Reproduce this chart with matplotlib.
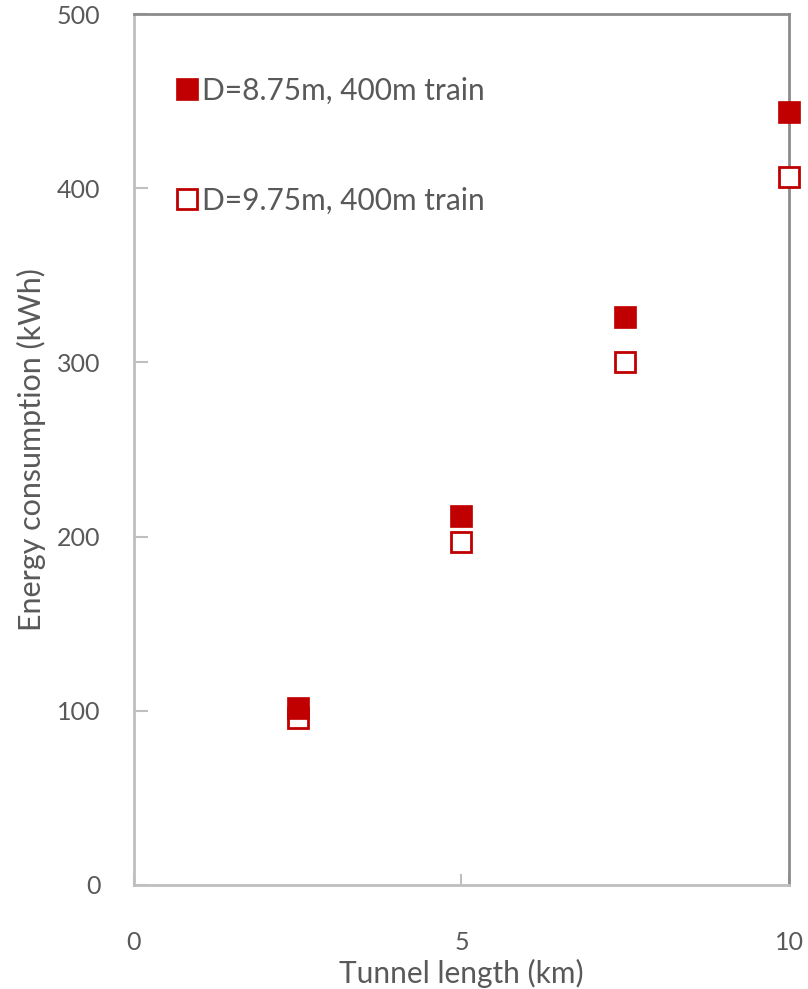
import matplotlib
matplotlib.use("Agg")
import matplotlib.pyplot as plt
from matplotlib.lines import Line2D

# Tunnel length (km) and energy consumption (kWh) for two tunnel diameters
tunnel_length = [2.5, 5, 7.5, 10]
energy_d875 = [101.5, 212, 326, 443.5]
energy_d975 = [96, 197, 300, 406.5]

series_labels = ["D=8.75m, 400m train", "D=9.75m, 400m train"]
x_ticks = [0, 5, 10]
y_ticks = [0, 100, 200, 300, 400, 500]

red = "#c00000"
text_gray = "#595959"
font = "Lato"

fig = plt.figure(figsize=(8.08, 9.89), dpi=100)
ax = fig.add_axes([0.1658, 0.1052, 0.8107, 0.8806])

ax.plot(tunnel_length, energy_d975, linestyle="none", marker="s", markersize=14.5,
        markerfacecolor="white", markeredgecolor=red, markeredgewidth=2,
        clip_on=False, zorder=3)
ax.plot(tunnel_length, energy_d875, linestyle="none", marker="s", markersize=15.5,
        markerfacecolor=red, markeredgecolor=red, markeredgewidth=0.5,
        clip_on=False, zorder=4)

ax.set_xlim(0, 10)
ax.set_ylim(0, 500)
ax.set_xticks(x_ticks)
ax.set_yticks(y_ticks)

ax.tick_params(axis="x", direction="in", length=8, width=1.5, color="#bfbfbf",
               pad=33, labelsize=18, labelcolor=text_gray)
ax.tick_params(axis="y", direction="in", length=10, width=1.5, color="#bfbfbf",
               pad=24, labelsize=18, labelcolor=text_gray)
for lab in ax.get_xticklabels() + ax.get_yticklabels():
    lab.set_fontfamily(font)

for side in ("left", "bottom"):
    ax.spines[side].set_color("#bfbfbf")
    ax.spines[side].set_linewidth(2)
for side in ("top", "right"):
    ax.spines[side].set_color("#8c8c8c")
    ax.spines[side].set_linewidth(2)

ax.set_xlabel("Tunnel length (km)", fontsize=21.5, color=text_gray,
              fontfamily=font, labelpad=4)
ax.set_ylabel("Energy consumption (kWh)", fontsize=22, color=text_gray,
              fontfamily=font, labelpad=8)

handles = [
    Line2D([], [], linestyle="none", marker="s", markersize=15.5,
           markerfacecolor=red, markeredgecolor=red, markeredgewidth=0.5),
    Line2D([], [], linestyle="none", marker="s", markersize=14.5,
           markerfacecolor="white", markeredgecolor=red, markeredgewidth=2),
]
leg = ax.legend(handles, series_labels, loc="upper left",
                bbox_to_anchor=(0.047, 0.942), frameon=False,
                prop={"family": font, "size": 21.5}, labelcolor=text_gray,
                labelspacing=2.75, handlelength=0.7, handletextpad=0.15,
                borderaxespad=0)

fig.savefig("out.png", dpi=100)
